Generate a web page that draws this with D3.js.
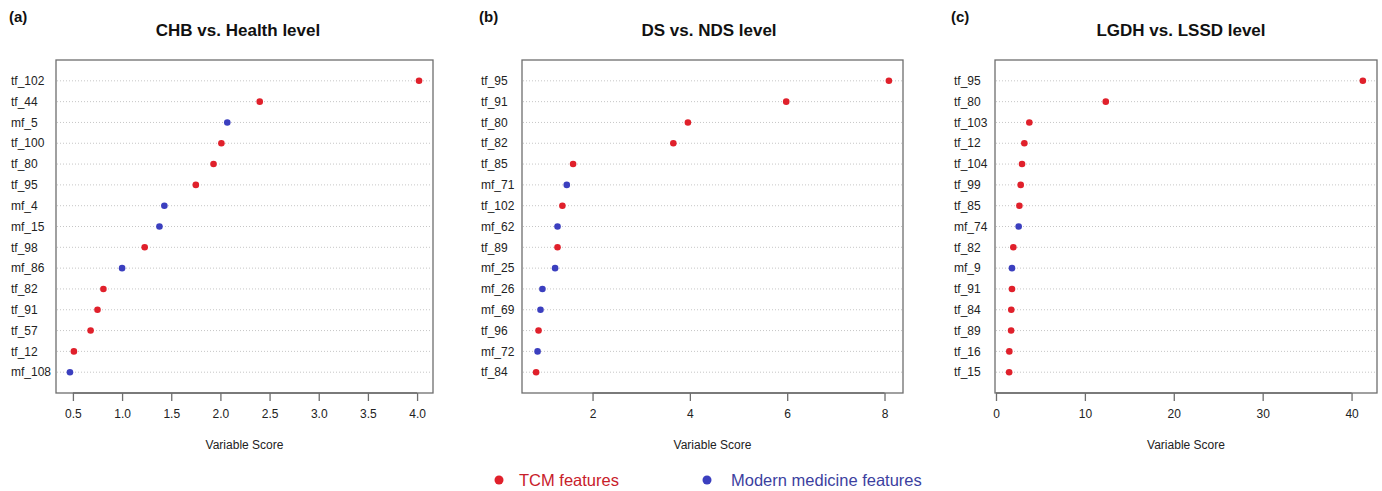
<!DOCTYPE html>
<html><head><meta charset="utf-8">
<script src="https://cdn.jsdelivr.net/npm/d3@7"></script>
<style>body{margin:0;background:#fff}svg{display:block;font-family:Arial,"Liberation Sans",sans-serif}</style>
</head><body><svg id="c" width="1382" height="491"></svg>
<script>
// Panel (a)
const aLabels = ["tf_102","tf_44","mf_5","tf_100","tf_80","tf_95","mf_4","mf_15","tf_98","mf_86","tf_82","tf_91","tf_57","tf_12","mf_108"];
const aValues = [4.02,2.40,2.07,2.01,1.93,1.75,1.43,1.38,1.23,1.00,0.81,0.75,0.68,0.51,0.47];
const aTicks = [0.5,1.0,1.5,2.0,2.5,3.0,3.5,4.0];
// Panel (b)
const bLabels = ["tf_95","tf_91","tf_80","tf_82","tf_85","mf_71","tf_102","mf_62","tf_89","mf_25","mf_26","mf_69","tf_96","mf_72","tf_84"];
const bValues = [8.09,5.98,3.96,3.66,1.60,1.47,1.38,1.28,1.28,1.23,0.97,0.93,0.89,0.87,0.84];
const bTicks = [2,4,6,8];
// Panel (c)
const cLabels = ["tf_95","tf_80","tf_103","tf_12","tf_104","tf_99","tf_85","mf_74","tf_82","mf_9","tf_91","tf_84","tf_89","tf_16","tf_15"];
const cValues = [41.27,12.35,3.75,3.19,2.93,2.78,2.63,2.55,1.95,1.80,1.80,1.72,1.70,1.50,1.48];
const cTicks = [0,10,20,30,40];

const titles = ["CHB vs. Health level","DS vs. NDS level","LGDH vs. LSSD level"];
const tags = ["(a)","(b)","(c)"];
const xTitle = "Variable Score";
const legendLabels = ["TCM features","Modern medicine features"];

const RED = "#e0202b", BLUE = "#3b3fbf";
const svg = d3.select("#c");

const panels = [
  {labels:aLabels, values:aValues, ticks:aTicks, fmt:d3.format(".1f"), x0:56, x1:433, tagX:9, labX:11, titleX:238},
  {labels:bLabels, values:bValues, ticks:bTicks, fmt:d3.format("d"), x0:522, x1:903, tagX:479, labX:481, titleX:709},
  {labels:cLabels, values:cValues, ticks:cTicks, fmt:d3.format("d"), x0:995, x1:1377, tagX:951, labX:954, titleX:1181}
];
const y0 = 60, y1 = 393;

panels.forEach((p,i)=>{
  const g = svg.append("g");
  const mn = d3.min(p.values), mx = d3.max(p.values), sp = mx-mn;
  const x = d3.scaleLinear().domain([mn-0.04*sp, mx+0.04*sp]).range([p.x0,p.x1]);
  const y = d3.scalePoint().domain(p.labels).range([y0,y1]).padding(1);

  // grid lines
  g.selectAll(".grid").data(p.labels).join("line")
    .attr("x1",p.x0+1).attr("x2",p.x1-1)
    .attr("y1",d=>y(d)).attr("y2",d=>y(d))
    .attr("stroke","#b8b8b8").attr("stroke-width",0.8).attr("stroke-dasharray","1,2");

  // box
  g.append("rect").attr("x",p.x0).attr("y",y0).attr("width",p.x1-p.x0).attr("height",y1-y0)
    .attr("fill","none").attr("stroke","#6e6e6e").attr("stroke-width",1.3);

  // x axis
  const ax = g.append("g").attr("transform",`translate(0,${y1})`)
    .call(d3.axisBottom(x).tickValues(p.ticks).tickFormat(p.fmt).tickSize(8).tickPadding(8));
  ax.select(".domain").attr("d",`M${x(p.ticks[0])},0H${x(p.ticks[p.ticks.length-1])}`).attr("stroke","#6e6e6e").attr("stroke-width",1.3);
  ax.selectAll(".tick line").attr("stroke","#6e6e6e").attr("stroke-width",1.3);
  ax.selectAll(".tick text").attr("font-size",12).attr("fill","#222").attr("font-family","Arial, 'Liberation Sans', sans-serif");

  // y labels
  g.selectAll(".lab").data(p.labels).join("text")
    .attr("x",p.labX).attr("y",d=>y(d)).attr("dy","0.35em")
    .attr("font-size",12).attr("fill","#222").text(d=>d);

  // dots
  g.selectAll(".dot").data(p.labels.map((l,j)=>({l,v:p.values[j]}))).join("circle")
    .attr("cx",d=>x(d.v)).attr("cy",d=>y(d.l)).attr("r",3.3)
    .attr("fill",d=>d.l.startsWith("tf")?RED:BLUE);

  // title
  g.append("text").attr("x",p.titleX).attr("y",36).attr("text-anchor","middle")
    .attr("font-size",17).attr("font-weight","bold").attr("fill","#111").text(titles[i]);
  // tag
  g.append("text").attr("x",p.tagX).attr("y",22)
    .attr("font-size",15).attr("font-weight","bold").attr("fill","#111").text(tags[i]);
  // x title
  g.append("text").attr("x",(p.x0+p.x1)/2).attr("y",449).attr("text-anchor","middle")
    .attr("font-size",12).attr("fill","#222").text(xTitle);
});

// legend
const leg = svg.append("g");
const legItems = [{t:legendLabels[0],c:RED,tc:"#c8202a",dx:499,tx:519},{t:legendLabels[1],c:BLUE,tc:"#3c3f9f",dx:707,tx:731}];
legItems.forEach(d=>{
  leg.append("circle").attr("cx",d.dx).attr("cy",480).attr("r",4.5).attr("fill",d.c);
  leg.append("text").attr("x",d.tx).attr("y",480).attr("dy","0.35em").attr("font-size",16.5).attr("fill",d.tc).text(d.t);
});
</script></body></html>
